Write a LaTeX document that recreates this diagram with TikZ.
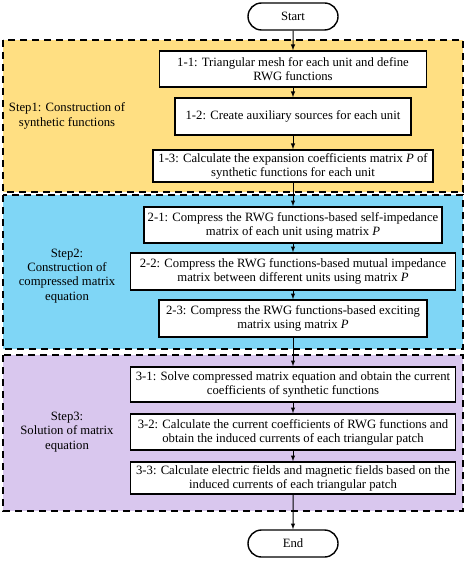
\documentclass[tikz,border=0pt]{standalone}
\usepackage{fontspec}
\setmainfont{Liberation Serif}
\usetikzlibrary{shapes.misc}
\definecolor{stepyellow}{HTML}{FFDF82}
\definecolor{stepblue}{HTML}{7FD6F6}
\definecolor{steppurple}{HTML}{D9C7EE}
\begin{document}
\begin{tikzpicture}[x=1pt,y=-1pt,line width=1.4pt,>=latex]
      \tikzstyle{every node}=[font=\fontsize{12.7}{14.2}\selectfont,align=center];
      \tikzstyle{stage}=[draw,dash pattern=on 7pt off 5pt];
      \tikzstyle{stepbox}=[draw,fill=white,inner sep=0pt];
      \tikzstyle{term}=[draw,rounded rectangle,fill=white,minimum width=90pt,minimum height=27pt,inner sep=0pt];
      \useasboundingbox (0,0) rectangle (467,561);

      \draw[stage,fill=stepyellow] (3,40) rectangle (463,192);
      \draw[stage,fill=stepblue] (3,195) rectangle (463,349);
      \draw[stage,fill=steppurple] (3,355) rectangle (463,511);

      \node (lab1) at (67,116) {Step1: Construction of\\synthetic functions};
      \node (lab2) at (67,276) {Step2:\\Construction of\\compressed matrix\\equation};
      \node (lab3) at (67,432) {Step3:\\Solution of matrix\\equation};

      \node[term] (start) at (293,16.5) {Start};
      \node[stepbox,minimum width=267pt,minimum height=36pt] (s11) at (293,69)
      {1-1: Triangular mesh for each unit and define\\RWG functions};
      \node[stepbox,minimum width=236pt,minimum height=37pt] (s12) at (293,116.5)
      {1-2: Create auxiliary sources for each unit};
      \node[stepbox,minimum width=280pt,minimum height=32pt] (s13) at (293,166)
      {1-3: Calculate the expansion coefficients matrix \textit{P} of\\synthetic functions for each unit};
      \node[stepbox,minimum width=298pt,minimum height=36pt] (s21) at (293,225)
      {2-1: Compress the RWG functions-based self-impedance\\matrix of each unit using matrix \textit{P}};
      \node[stepbox,minimum width=325pt,minimum height=37pt] (s22) at (293,271.5)
      {2-2: Compress the RWG functions-based mutual impedance\\matrix between different units using matrix \textit{P}};
      \node[stepbox,minimum width=268pt,minimum height=37pt] (s23) at (293,318.5)
      {2-3: Compress the RWG functions-based exciting\\matrix using matrix \textit{P}};
      \node[stepbox,minimum width=325pt,minimum height=35pt] (s31) at (293,384.5)
      {3-1: Solve compressed matrix equation and obtain the current\\coefficients of synthetic functions};
      \node[stepbox,minimum width=325pt,minimum height=36pt] (s32) at (293,432)
      {3-2: Calculate the current coefficients of RWG functions and\\obtain the induced currents of each triangular patch};
      \node[stepbox,minimum width=325pt,minimum height=32pt] (s33) at (293,478)
      {3-3: Calculate electric fields and magnetic fields based on the\\induced currents of each triangular patch};
      \node[term] (end) at (293,543.5) {End};

      \draw[->,line width=1pt] (start) -- (s11);
      \draw[->,line width=1pt] (s11) -- (s12);
      \draw[->,line width=1pt] (s12) -- (s13);
      \draw[->,line width=1pt] (s13) -- (s21);
      \draw[->,line width=1pt] (s21) -- (s22);
      \draw[->,line width=1pt] (s22) -- (s23);
      \draw[->,line width=1pt] (s23) -- (s31);
      \draw[->,line width=1pt] (s31) -- (s32);
      \draw[->,line width=1pt] (s32) -- (s33);
      \draw[->,line width=1pt] (s33) -- (end);

    \end{tikzpicture}
\end{document}
